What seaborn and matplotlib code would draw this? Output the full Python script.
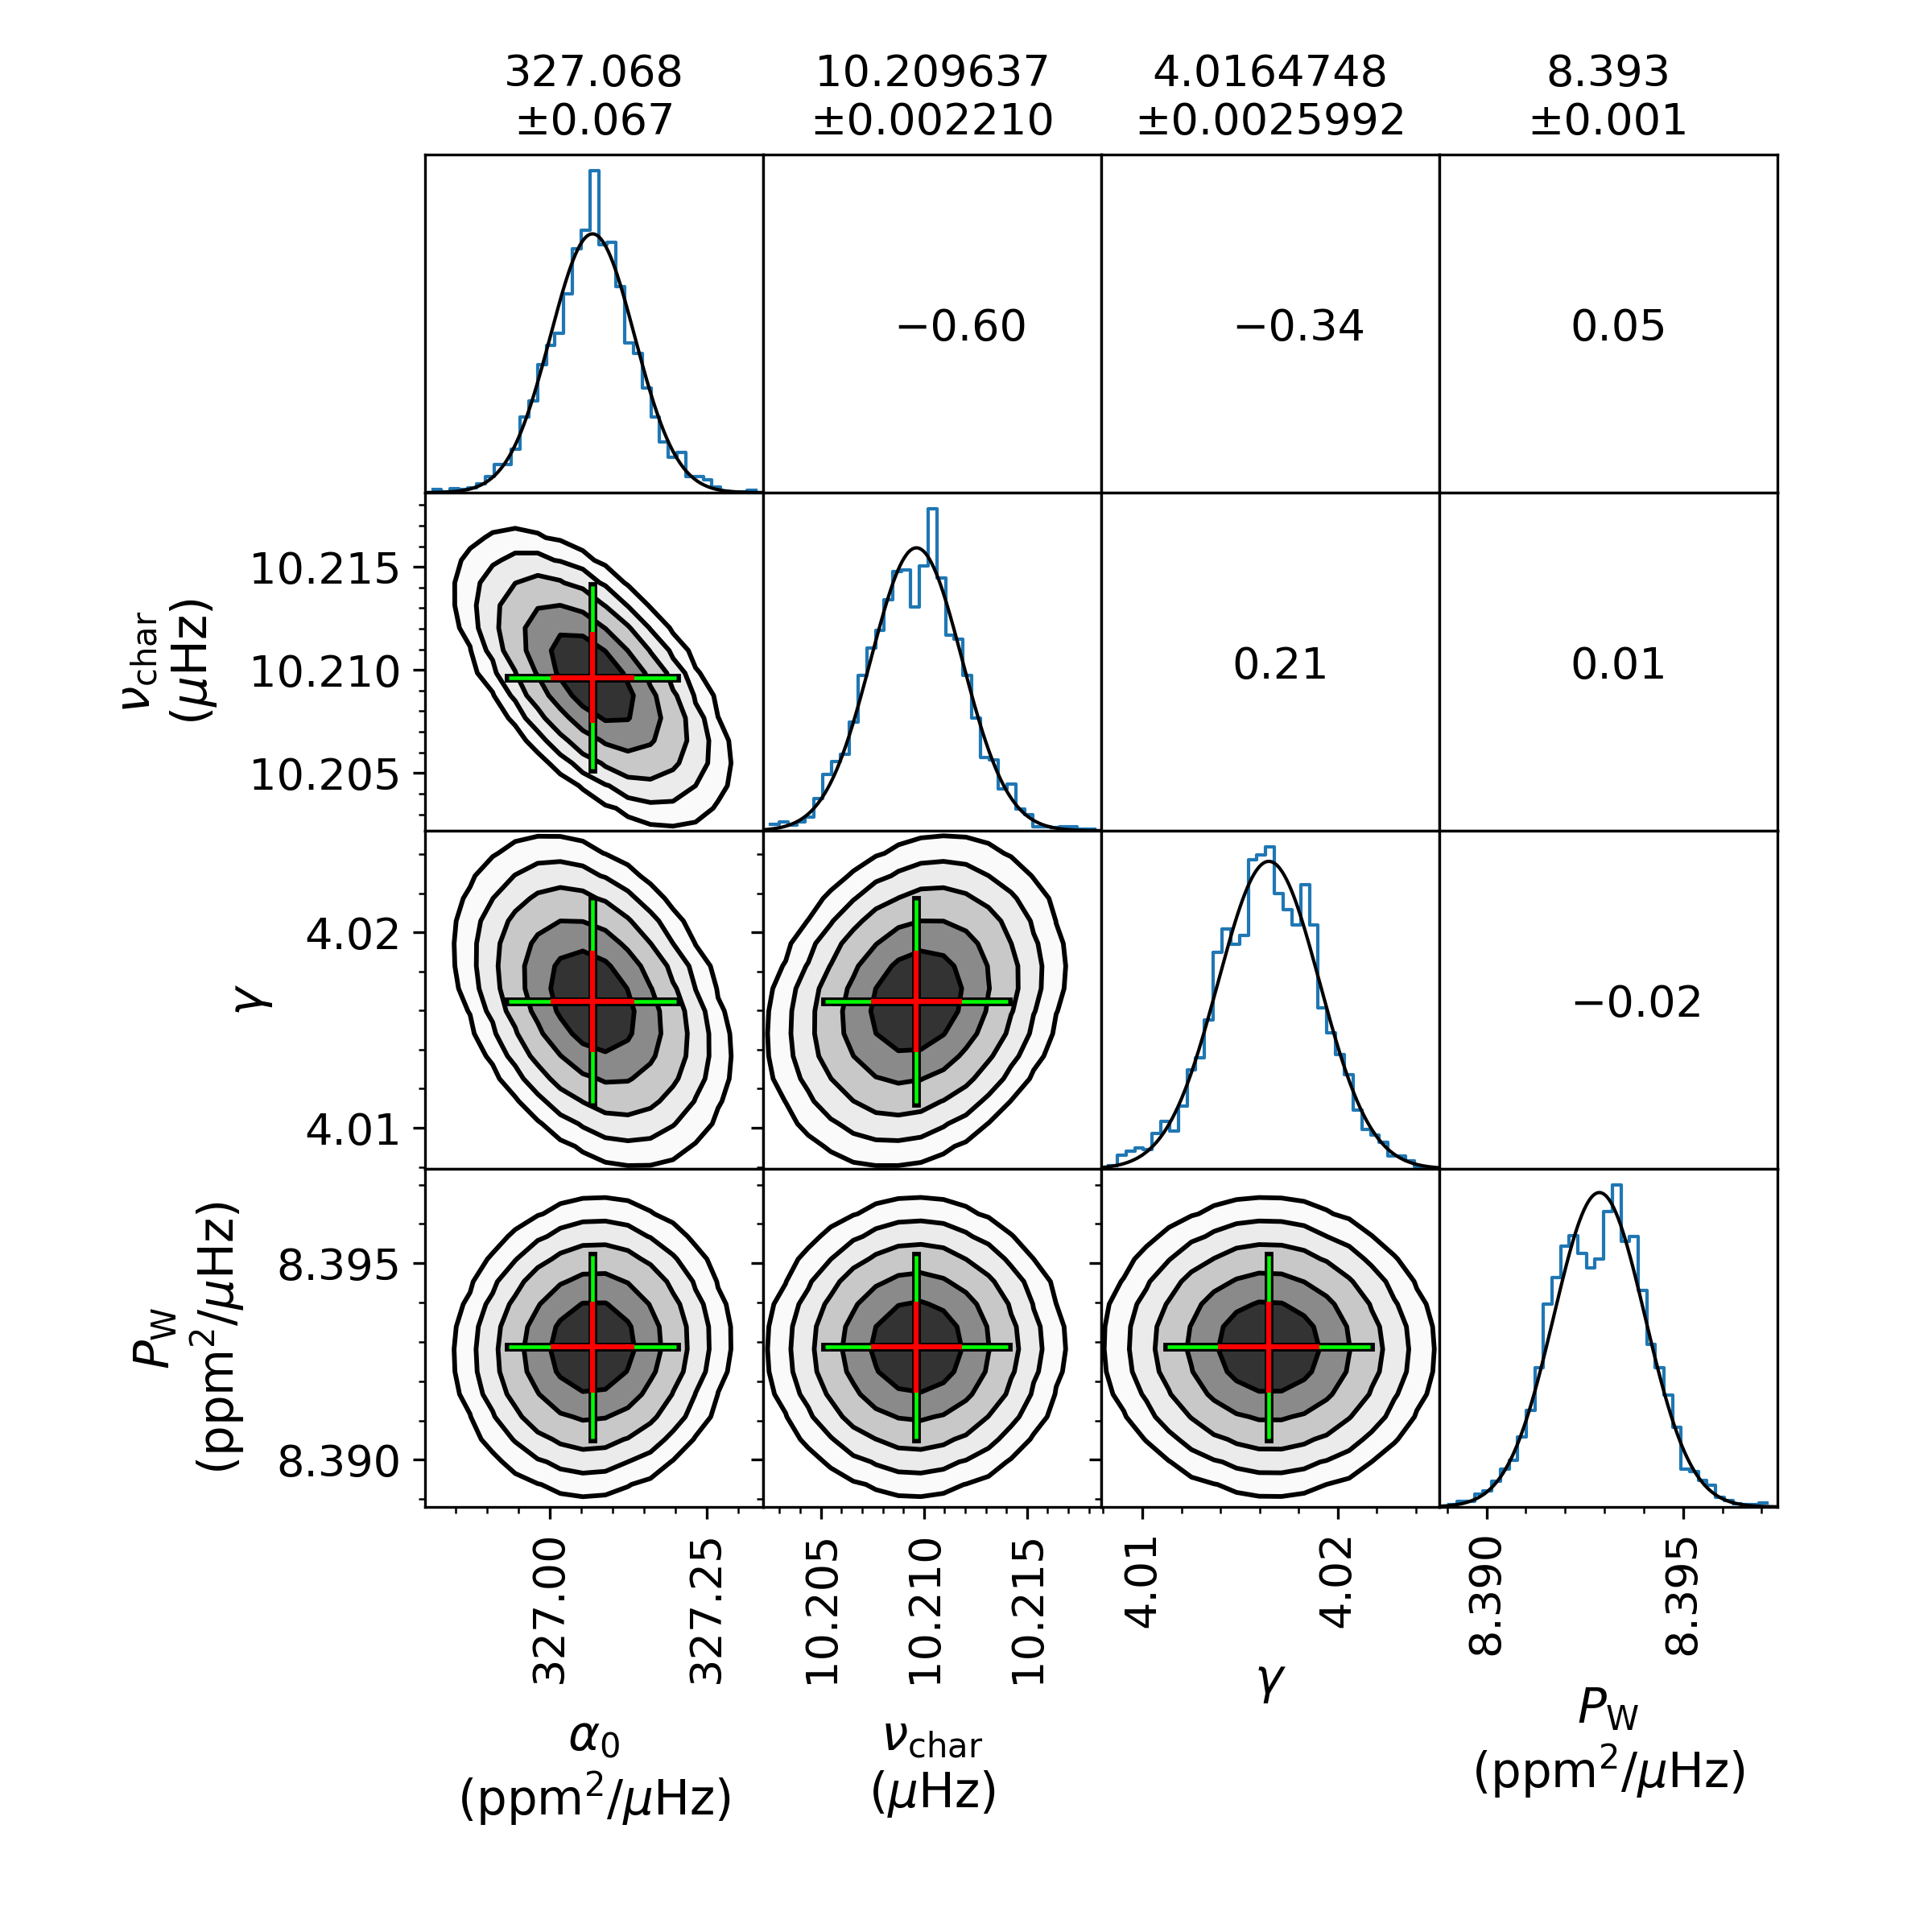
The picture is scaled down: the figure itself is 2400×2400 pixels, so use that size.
import numpy as np
import pandas as pd
import matplotlib
matplotlib.use("Agg")
import matplotlib.pyplot as plt
import seaborn as sns
from matplotlib.ticker import FixedLocator, AutoMinorLocator

plt.rcParams['font.size'] = 13
plt.rcParams['font.family'] = ['DejaVu Sans']

# parametros
labels = [r"$\alpha_0$" + "\n" + r"(ppm$^2$/$\mu$Hz)",
          r"$\nu_{\rm char}$" + "\n" + r"($\mu$Hz)",
          r"$\gamma$",
          r"$P_{\rm W}$" + "\n" + r"(ppm$^2$/$\mu$Hz)"]
means = [327.068, 10.209637, 4.0164748, 8.39287]
errors = [0.067, 0.002210, 0.0025992, 0.00116]
decimals = [3, 6, 7, 3]
limits = [(326.801, 327.340), (10.2022, 10.2186), (4.0079, 4.0252), (8.3888, 8.3974)]
ticks = [[327.00, 327.25], [10.205, 10.210, 10.215], [4.01, 4.02], [8.390, 8.395]]
tick_labels = [["327.00", "327.25"], ["10.205", "10.210", "10.215"], ["4.01", "4.02"], ["8.390", "8.395"]]

# correlaciones (fila, columna)
corr = {(1, 0): -0.60, (2, 0): -0.34, (3, 0): 0.05,
        (2, 1): 0.21, (3, 1): 0.01, (3, 2): -0.02}

# histogramas
hist_alpha = [9, 3, 11, 10, 14, 27, 48, 83, 83, 128, 223, 271, 379, 437, 471, 588, 723, 776, 953,
              735, 741, 610, 443, 411, 310, 223, 149, 106, 120, 48, 48, 38, 17, 5, 2, 2, 6]
hist_nu = [19, 27, 17, 27, 40, 96, 167, 205, 227, 322, 459, 540, 594, 683, 768, 773, 662, 785, 953,
           749, 578, 568, 459, 334, 217, 209, 124, 137, 64, 48, 11, 11, 9, 13, 13, 5, 5]
hist_gamma = [9, 40, 52, 62, 56, 104, 140, 112, 187, 292, 329, 440, 640, 709, 665, 691, 916, 928,
              953, 814, 768, 723, 842, 723, 477, 402, 338, 279, 175, 116, 100, 78, 38, 38, 25, 6]
hist_pw = [6, 17, 17, 37, 48, 76, 112, 138, 207, 287, 413, 600, 679, 773, 802, 751, 707, 735, 874,
           953, 787, 801, 640, 481, 411, 332, 237, 112, 104, 78, 64, 29, 19, 9, 6, 6, 11]
hists = [hist_alpha, hist_nu, hist_gamma, hist_pw]
hist_ranges = [(326.8134, 327.3279), (10.20255, 10.21827), (4.00827, 4.02436), (8.38904, 8.39714)]

# niveles de contorno (radio en sigmas) y grises
radii = [3.2, 2.7, 2.2, 1.6, 1.0]
fills = ['#fafafa', '#ebebeb', '#c8c8c8', '#8a8a8a', '#333333']

n = 4
fig, axes = plt.subplots(n, n, figsize=(8, 8), dpi=300)
fig.subplots_adjust(left=0.22, right=0.92, bottom=0.22, top=0.92, wspace=0, hspace=0)


def set_ticks(axis, k):
    axis.set_major_locator(FixedLocator(ticks[k]))
    axis.set_minor_locator(AutoMinorLocator())


for i in range(n):
    for j in range(n):
        ax = axes[i, j]
        if j > i:
            # panel superior: solo el coeficiente
            ax.set_xticks([])
            ax.set_yticks([])
            txt = f"{corr[(j, i)]:.2f}".replace('-', '\u2212')
            ax.text(0.387, 0.485, txt, transform=ax.transAxes, ha='left', va='center', fontsize=13)
        elif i == j:
            counts = np.array(hists[i], dtype=float)
            edges = np.linspace(hist_ranges[i][0], hist_ranges[i][1], len(counts) + 1)
            df = pd.DataFrame({'x': 0.5 * (edges[:-1] + edges[1:]), 'w': counts})
            sns.histplot(data=df, x='x', weights='w', bins=list(edges), stat='density',
                         element='step', fill=False, color='#1f77b4', linewidth=1.0, ax=ax)
            xs = np.linspace(limits[i][0], limits[i][1], 300)
            pdf = np.exp(-0.5 * ((xs - means[i]) / errors[i]) ** 2) / (np.sqrt(2 * np.pi) * errors[i])
            sns.lineplot(x=xs, y=pdf, color='k', linewidth=1.0, ax=ax)
            dens_max = counts.max() / (counts.sum() * (edges[1] - edges[0]))
            ax.set_ylim(0, 1.05 * dens_max)
            ax.set_xlim(limits[i])
            ax.set_yticks([])
            set_ticks(ax.xaxis, i)
        else:
            rho = corr[(i, j)]
            xg = np.linspace(limits[j][0], limits[j][1], 16)
            yg = np.linspace(limits[i][0], limits[i][1], 16)
            X, Y = np.meshgrid(xg, yg)
            u = (X - means[j]) / errors[j]
            v = (Y - means[i]) / errors[i]
            Z = np.exp(-0.5 * (u * u - 2 * rho * u * v + v * v) / (1 - rho * rho))
            lev = list(np.exp(-0.5 * np.array(radii) ** 2))
            ax.contourf(X, Y, Z, levels=lev + [1.01], colors=fills, zorder=1)
            ax.contour(X, Y, Z, levels=lev, colors='k', linewidths=1.4, zorder=2)
            mx, my, sx, sy = means[j], means[i], errors[j], errors[i]
            ax.plot([mx - 2 * sx, mx + 2 * sx], [my, my], color='k', lw=2.6, zorder=3)
            ax.plot([mx, mx], [my - 2 * sy, my + 2 * sy], color='k', lw=2.6, zorder=3)
            ax.plot([mx - 2 * sx, mx + 2 * sx], [my, my], color='#00ff00', lw=1.1, solid_capstyle='butt', zorder=4)
            ax.plot([mx, mx], [my - 2 * sy, my + 2 * sy], color='#00ff00', lw=1.1, solid_capstyle='butt', zorder=4)
            ax.plot([mx - sx, mx + sx], [my, my], color='red', lw=1.5, solid_capstyle='butt', zorder=5)
            ax.plot([mx, mx], [my - sy, my + sy], color='red', lw=1.5, solid_capstyle='butt', zorder=5)
            ax.set_xlim(limits[j])
            ax.set_ylim(limits[i])
            set_ticks(ax.xaxis, j)
            set_ticks(ax.yaxis, i)
            if j == 0:
                ax.set_yticklabels(tick_labels[i])
                ax.set_ylabel(labels[i], fontsize=14.3, labelpad=9)
            else:
                ax.tick_params(labelleft=False)
                ax.set_ylabel('')

        if i == 0:
            ax.set_title(f"{means[j]:.{decimals[j]}f}\n\u00b1{errors[j]:.{decimals[j]}f}", fontsize=13)

        if j <= i:
            if i == n - 1:
                ax.set_xticklabels(tick_labels[j])
                ax.tick_params(axis='x', labelrotation=90)
                ax.set_xlabel(labels[j], fontsize=14.3, labelpad=9)
            else:
                ax.tick_params(labelbottom=False)
                ax.set_xlabel('')
            if i == j:
                ax.set_ylabel('')
        ax.tick_params(labelsize=13)

fig.savefig('out.png', dpi=300)
